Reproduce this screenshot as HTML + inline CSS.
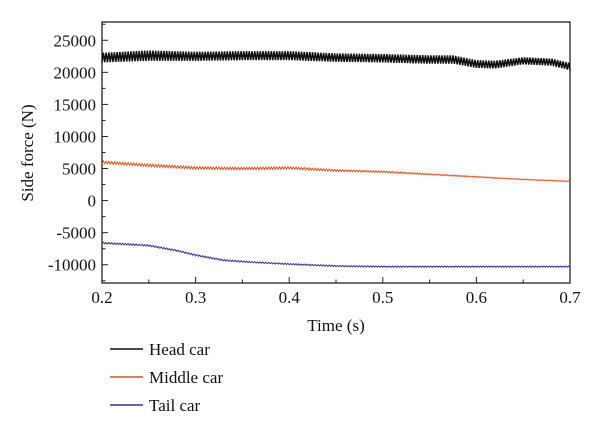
<!DOCTYPE html>
<html><head><meta charset="utf-8"><style>
body{margin:0;background:#fff;width:600px;height:432px;overflow:hidden}
svg{font-family:"Liberation Serif",serif}
</style></head><body>
<svg id="chart" width="600" height="432"></svg>
<script>
const xTicks=[0.2,0.3,0.4,0.5,0.6,0.7];
const xTickLabels=["0.2","0.3","0.4","0.5","0.6","0.7"];
const yTicks=[25000,20000,15000,10000,5000,0,-5000,-10000];
const yTickLabels=["25000","20000","15000","10000","5000","0","-5000","-10000"];
const seriesNames=["Head car","Middle car","Tail car"];
const headT=[0.2,0.25,0.3,0.35,0.4,0.45,0.5,0.55,0.575,0.6,0.62,0.65,0.68,0.7];
const headV=[22300,22600,22500,22600,22600,22300,22200,22000,22000,21300,21200,21800,21600,20900];
const headAmp=[750,800,700,700,700,650,650,650,650,600,600,550,550,550];
const midT=[0.2,0.25,0.3,0.35,0.4,0.45,0.5,0.55,0.6,0.65,0.7];
const midV=[6000,5500,5100,5000,5100,4700,4500,4100,3700,3300,3000];
const midAmp=[200,200,200,180,180,150,120,100,80,60,60];
const tailT=[0.2,0.25,0.28,0.3,0.33,0.36,0.4,0.45,0.5,0.6,0.7];
const tailV=[-6600,-7000,-7800,-8500,-9300,-9600,-9900,-10200,-10300,-10300,-10300];
const tailAmp=[120,120,120,120,120,100,100,100,100,100,100];

const NS="http://www.w3.org/2000/svg";
const svg=document.getElementById('chart');
const L=102,R=570,T=22,B=283;
const xMin=0.2,xMax=0.7,yMin=-12850,yMax=27850;
const x=v=>L+(v-xMin)/(xMax-xMin)*(R-L);
const y=v=>B-(v-yMin)/(yMax-yMin)*(B-T);
function el(tag,attrs,txt){const e=document.createElementNS(NS,tag);for(const k in attrs)e.setAttribute(k,attrs[k]);if(txt!==undefined)e.textContent=txt;svg.appendChild(e);return e;}
function interp(ts,vs,t){for(let i=0;i<ts.length-1;i++){if(t<=ts[i+1]){const f=(t-ts[i])/(ts[i+1]-ts[i]);return vs[i]+f*(vs[i+1]-vs[i]);}}return vs[vs.length-1];}

const frame=el('rect',{x:L,y:T,width:R-L,height:B-T,fill:'none',stroke:'#222','stroke-width':1.3});



for(let v=-12500;v<=27500;v+=2500){
  const major=(v%5000===0);
  const t=el('line',{x1:L,x2:L+(major?6:3.5),y1:y(v),y2:y(v),stroke:'#222','stroke-width':1});
  
  
}
yTicks.forEach((v,i)=>{
  const t=el('text',{x:L-6,y:y(v)+6,'text-anchor':'end','font-size':17,fill:'#111'},yTickLabels[i]);
  
  
});
for(let v=0.2;v<=0.7001;v+=0.05){
  const major=Math.abs(Math.round(v*10)-v*10)<1e-6;
  const t=el('line',{x1:x(v),x2:x(v),y1:B,y2:B-(major?6:3.5),stroke:'#222','stroke-width':1});
  
  
}
xTicks.forEach((v,i)=>{
  const t=el('text',{x:x(v),y:303,'text-anchor':'middle','font-size':17,fill:'#111'},xTickLabels[i]);
  
  
});
const xt=el('text',{x:336,y:331,'text-anchor':'middle','font-size':17,fill:'#111'},'Time (s)');


const yt=el('text',{x:0,y:0,transform:'translate(33,153) rotate(-90)','text-anchor':'middle','font-size':17,fill:'#111'},'Side force (N)');



function series(ts,vs,amps,color,name,sw){
  const n=170;let d='';
  for(let i=0;i<=n*2;i++){
    const t=xMin+(xMax-xMin)*i/(n*2);
    const a=interp(ts,amps,t)*(i%2?1:-1);
    const v=interp(ts,vs,t)+a;
    d+=(i?'L':'M')+x(t).toFixed(2)+','+y(v).toFixed(2);
  }
  const p=el('path',{d:d,fill:'none',stroke:color,'stroke-width':sw});
  
  
}
series(headT,headV,headAmp,'#111','head-car-line',1.5);
series(midT,midV,midAmp,'#e0501e','middle-car-line',1);
series(tailT,tailV,tailAmp,'#3a2f9a','tail-car-line',1);

const colors=['#111','#e0501e','#3a2f9a'];
const ly=[349,377,405];
seriesNames.forEach((s,i)=>{
  const l=el('line',{x1:110,x2:143,y1:ly[i],y2:ly[i],stroke:colors[i],'stroke-width':1.5});
  
  
  const t=el('text',{x:149,y:ly[i]+6,'font-size':17,fill:'#111'},s);
  
  
});
</script>
</body></html>
